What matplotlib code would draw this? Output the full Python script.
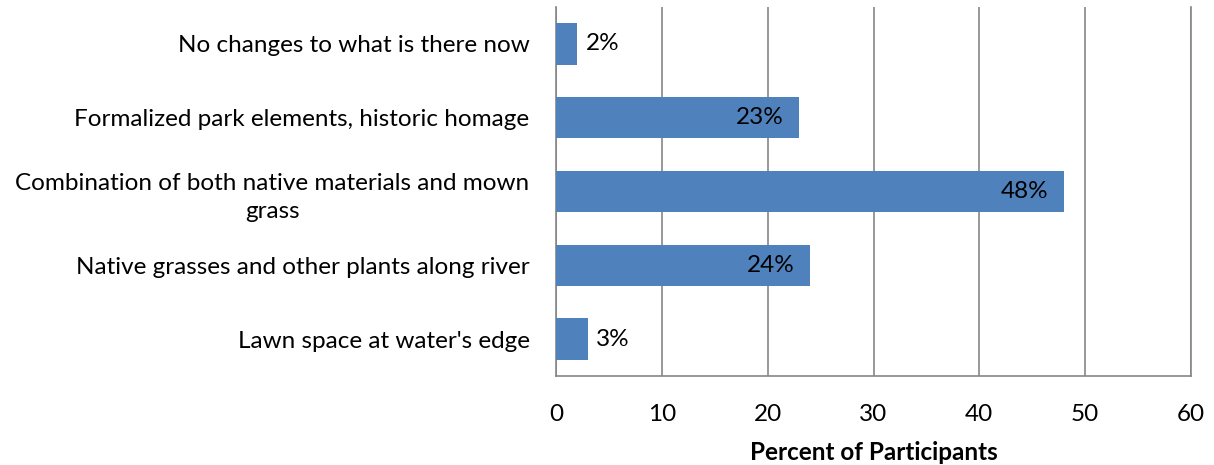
import matplotlib
matplotlib.use("Agg")
import matplotlib.pyplot as plt

# data ---------------------------------------------------------
categories = [
    "Lawn space at water's edge",
    "Native grasses and other plants along river",
    "Combination of both native materials and mown\ngrass",
    "Formalized park elements, historic homage",
    "No changes to what is there now",
]
values = [3, 24, 48, 23, 2]
xticks = [0, 10, 20, 30, 40, 50, 60]

BAR_COLOR = "#4F81BD"
GRID_COLOR = "#868686"
FS = 17.5

plt.rcParams["font.family"] = ["Lato", "DejaVu Sans"]

fig = plt.figure(figsize=(12.14, 4.65), dpi=100)
ax = fig.add_axes([556 / 1214, 1 - 376 / 465, 635 / 1214, 369 / 465])

ypos = list(range(len(categories)))
ax.barh(ypos, values, height=0.56, color=BAR_COLOR, zorder=3)

# labels on bars
for y, v in zip(ypos, values):
    if v > 10:
        ax.text(v - 1.5, y, f"{v}%", ha="right", va="center", fontsize=FS, zorder=4)
    else:
        ax.text(v + 0.8, y, f"{v}%", ha="left", va="center", fontsize=FS, zorder=4)

ax.set_xlim(0, 60)
ax.set_ylim(-0.5, len(categories) - 0.5)
ax.set_xticks(xticks)
ax.set_xticklabels([str(t) for t in xticks], fontsize=FS)
ax.set_yticks(ypos)
ax.set_yticklabels(categories, fontsize=FS, multialignment="center", linespacing=1.45)

ax.grid(axis="x", color=GRID_COLOR, linewidth=1.2, zorder=0)
ax.spines["top"].set_visible(False)
for s in ["left", "bottom", "right"]:
    ax.spines[s].set_color(GRID_COLOR)
    ax.spines[s].set_linewidth(1.2)
ax.tick_params(axis="x", length=0, pad=20)
ax.tick_params(axis="y", length=0, pad=19)

ax.set_xlabel("Percent of Participants", fontsize=FS, fontweight="bold", labelpad=12)

fig.savefig("out.png", dpi=100)
